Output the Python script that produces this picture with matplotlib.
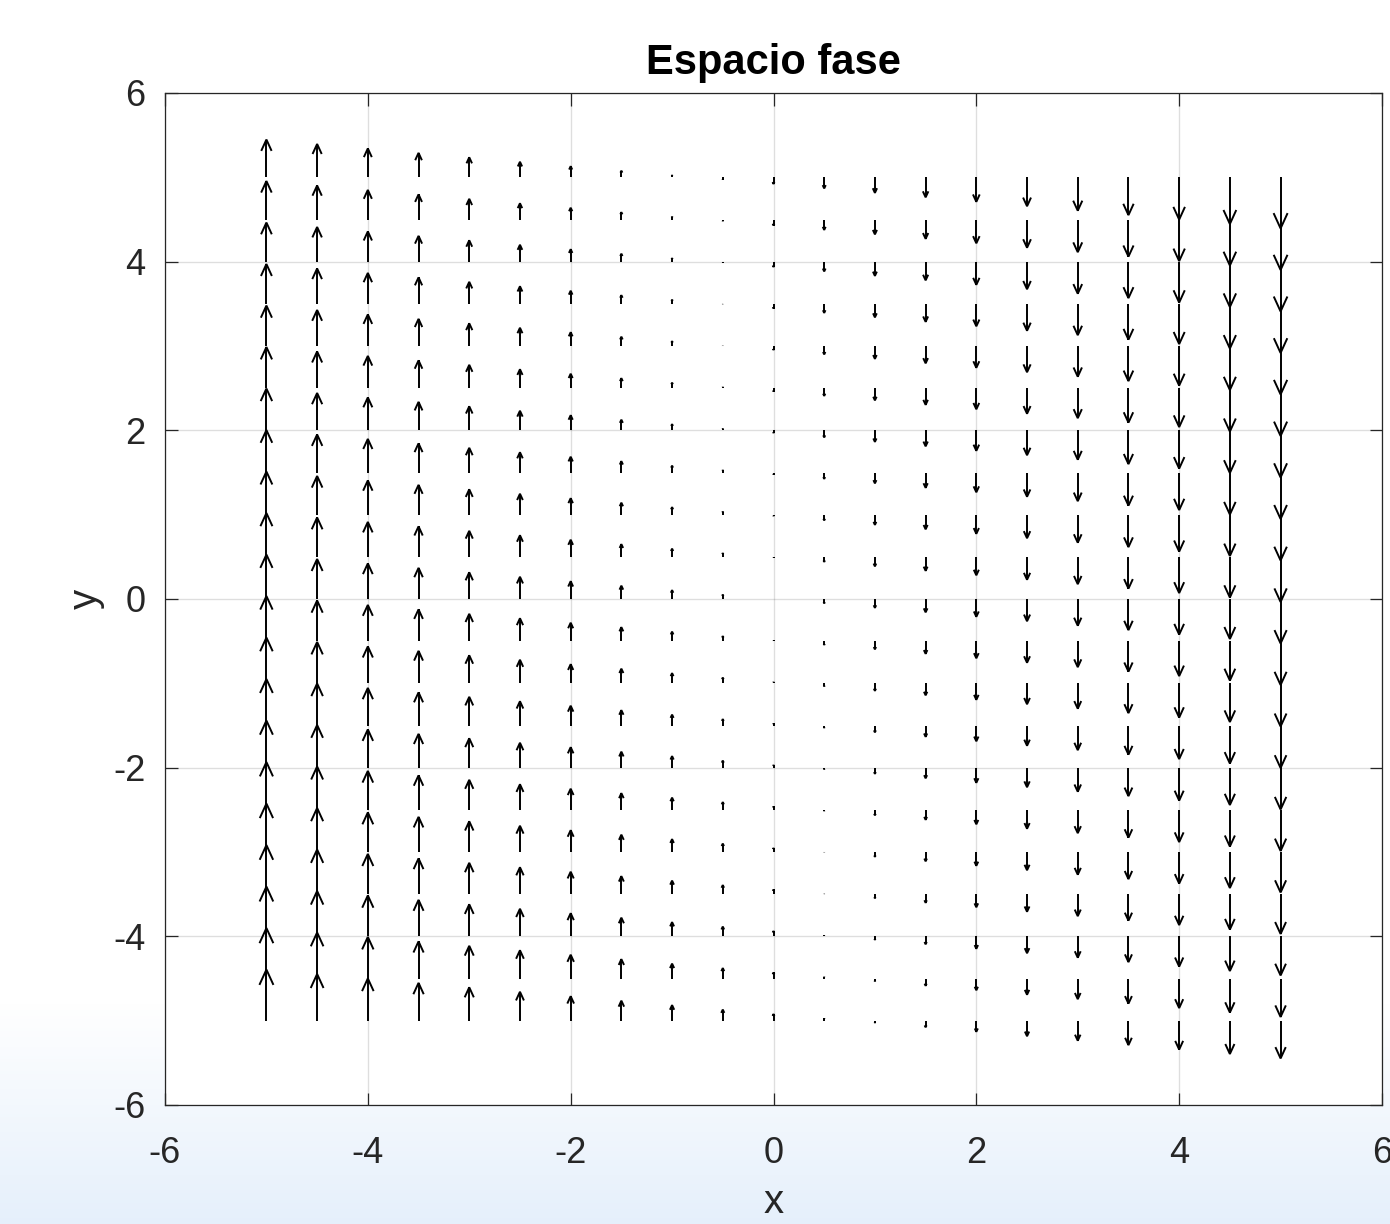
import numpy as np
import matplotlib
matplotlib.use("Agg")
import matplotlib.pyplot as plt
from matplotlib.collections import LineCollection

# ---- data -------------------------------------------------------------
x_vals = [-5.0, -4.5, -4.0, -3.5, -3.0, -2.5, -2.0, -1.5, -1.0, -0.5, 0.0,
          0.5, 1.0, 1.5, 2.0, 2.5, 3.0, 3.5, 4.0, 4.5, 5.0]
y_vals = [5.0, 4.5, 4.0, 3.5, 3.0, 2.5, 2.0, 1.5, 1.0, 0.5, 0.0,
          -0.5, -1.0, -1.5, -2.0, -2.5, -3.0, -3.5, -4.0, -4.5, -5.0]
# horizontal component of every arrow (all vertical arrows)
u_value = 0.0
# vertical component (relative units), one row per y value, one column per x value
v_field = [
    [170, 150, 130, 110, 90, 70, 50, 30, 10, -10, -30, -50, -70, -90, -110, -130, -150, -170, -190, -210, -230],
    [173, 153, 133, 113, 93, 73, 53, 33, 13, -7, -27, -47, -67, -87, -107, -127, -147, -167, -187, -207, -227],
    [176, 156, 136, 116, 96, 76, 56, 36, 16, -4, -24, -44, -64, -84, -104, -124, -144, -164, -184, -204, -224],
    [179, 159, 139, 119, 99, 79, 59, 39, 19, -1, -21, -41, -61, -81, -101, -121, -141, -161, -181, -201, -221],
    [182, 162, 142, 122, 102, 82, 62, 42, 22, 2, -18, -38, -58, -78, -98, -118, -138, -158, -178, -198, -218],
    [185, 165, 145, 125, 105, 85, 65, 45, 25, 5, -15, -35, -55, -75, -95, -115, -135, -155, -175, -195, -215],
    [188, 168, 148, 128, 108, 88, 68, 48, 28, 8, -12, -32, -52, -72, -92, -112, -132, -152, -172, -192, -212],
    [191, 171, 151, 131, 111, 91, 71, 51, 31, 11, -9, -29, -49, -69, -89, -109, -129, -149, -169, -189, -209],
    [194, 174, 154, 134, 114, 94, 74, 54, 34, 14, -6, -26, -46, -66, -86, -106, -126, -146, -166, -186, -206],
    [197, 177, 157, 137, 117, 97, 77, 57, 37, 17, -3, -23, -43, -63, -83, -103, -123, -143, -163, -183, -203],
    [200, 180, 160, 140, 120, 100, 80, 60, 40, 20, 0, -20, -40, -60, -80, -100, -120, -140, -160, -180, -200],
    [203, 183, 163, 143, 123, 103, 83, 63, 43, 23, 3, -17, -37, -57, -77, -97, -117, -137, -157, -177, -197],
    [206, 186, 166, 146, 126, 106, 86, 66, 46, 26, 6, -14, -34, -54, -74, -94, -114, -134, -154, -174, -194],
    [209, 189, 169, 149, 129, 109, 89, 69, 49, 29, 9, -11, -31, -51, -71, -91, -111, -131, -151, -171, -191],
    [212, 192, 172, 152, 132, 112, 92, 72, 52, 32, 12, -8, -28, -48, -68, -88, -108, -128, -148, -168, -188],
    [215, 195, 175, 155, 135, 115, 95, 75, 55, 35, 15, -5, -25, -45, -65, -85, -105, -125, -145, -165, -185],
    [218, 198, 178, 158, 138, 118, 98, 78, 58, 38, 18, -2, -22, -42, -62, -82, -102, -122, -142, -162, -182],
    [221, 201, 181, 161, 141, 121, 101, 81, 61, 41, 21, 1, -19, -39, -59, -79, -99, -119, -139, -159, -179],
    [224, 204, 184, 164, 144, 124, 104, 84, 64, 44, 24, 4, -16, -36, -56, -76, -96, -116, -136, -156, -176],
    [227, 207, 187, 167, 147, 127, 107, 87, 67, 47, 27, 7, -13, -33, -53, -73, -93, -113, -133, -153, -173],
    [230, 210, 190, 170, 150, 130, 110, 90, 70, 50, 30, 10, -10, -30, -50, -70, -90, -110, -130, -150, -170],
]
tick_vals = [-6, -4, -2, 0, 2, 4, 6]
tick_labels = ["-6", "-4", "-2", "0", "2", "4", "6"]
title_text = "Espacio fase"
xlabel_text = "x"
ylabel_text = "y"

# ---- style --------------------------------------------------------------
plt.rcParams["font.family"] = ["Liberation Sans", "DejaVu Sans"]
dark = (0.15, 0.15, 0.15)

fig = plt.figure(figsize=(13.90, 12.24), dpi=100)

# light-blue gradient at the bottom of the window background
bg = fig.add_axes([0, 0, 1, 1], zorder=-10)
bg.set_axis_off()
h = 400
t = np.linspace(0, 1, h)[:, None]
ramp = np.clip((t - 0.82) / 0.18, 0, 1)  # 0 at top ... 1 at bottom
top_c = np.array([1.0, 1.0, 1.0])
bot_c = np.array([0.90, 0.94, 0.985])
img = top_c[None, None, :] * (1 - ramp[..., None]) + bot_c[None, None, :] * ramp[..., None]
img = np.repeat(img, 4, axis=1)
bg.imshow(img, aspect="auto", extent=[0, 1, 0, 1], origin="upper")
bg.set_xlim(0, 1)
bg.set_ylim(0, 1)

ax = fig.add_axes([165 / 1390, 1 - 1105 / 1224, (1382 - 165) / 1390, (1105 - 93) / 1224])
ax.set_facecolor("white")

# MATLAB-like quiver autoscale
X, Y = np.meshgrid(np.array(x_vals), np.array(y_vals))
V = np.array(v_field, dtype=float)
U = np.full_like(V, u_value)
n = len(x_vals)
delx = (max(x_vals) - min(x_vals)) / n
dely = (max(y_vals) - min(y_vals)) / n
del2 = delx ** 2 + dely ** 2
lens = np.sqrt((U ** 2 + V ** 2) / del2)
sc = 0.9 / lens.max()
dU = U * sc
dV = V * sc

alpha = 0.30
beta = 0.38
segs = []
for xi, yi, du, dv in zip(X.ravel(), Y.ravel(), dU.ravel(), dV.ravel()):
    tx, ty = xi + du, yi + dv
    segs.append([(xi, yi), (tx, ty)])
    segs.append([(tx - alpha * (du + beta * dv), ty - alpha * (dv - beta * du)),
                 (tx, ty),
                 (tx - alpha * (du - beta * dv), ty - alpha * (dv + beta * du))])
lc = LineCollection(segs, colors="black", linewidths=1.4, capstyle="butt", joinstyle="miter", zorder=3)
ax.add_collection(lc)

ax.set_xlim(-6, 6)
ax.set_ylim(-6, 6)
ax.set_xticks(tick_vals)
ax.set_xticklabels(tick_labels)
ax.set_yticks(tick_vals)
ax.set_yticklabels(tick_labels)
ax.grid(True, color=dark, alpha=0.15, linewidth=1.0)
ax.set_axisbelow(True)
ax.tick_params(direction="in", length=9, width=0.9, colors=dark, labelsize=26,
               top=True, right=True)
ax.tick_params(axis="x", pad=22)
ax.tick_params(axis="y", pad=14)
for s in ax.spines.values():
    s.set_color(dark)
    s.set_linewidth(0.9)

ax.set_title(title_text, fontsize=30, fontweight="bold", color="black", pad=14)
ax.set_xlabel(xlabel_text, fontsize=29, color=dark, labelpad=9)
ax.set_ylabel(ylabel_text, fontsize=29, color=dark, labelpad=6)

fig.savefig("out.png", dpi=100)
